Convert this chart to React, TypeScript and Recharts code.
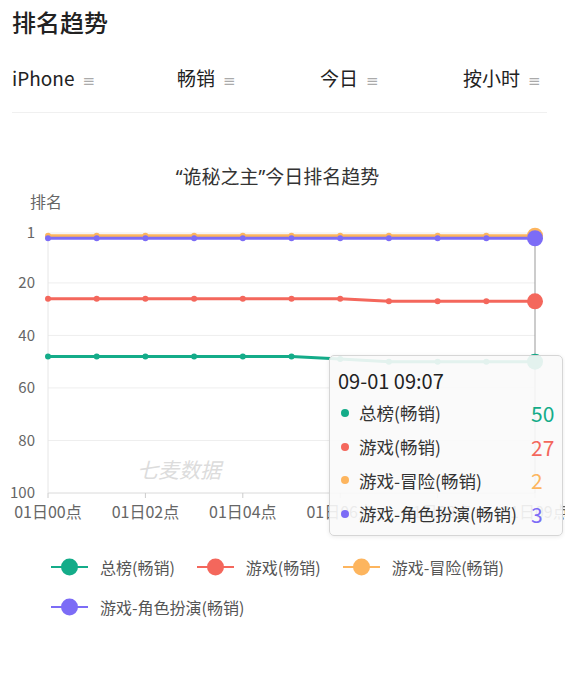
import React from 'react';
import { LineChart, Line, XAxis, YAxis, CartesianGrid, Tooltip } from 'recharts';

// hourly ranking, last point is the latest crawl (09:07)
const hourLabels = [
  '01日00点', '01日01点', '01日02点', '01日03点', '01日04点', '01日05点',
  '01日06点', '01日07点', '01日08点', '01日09点', '01日09点',
];
const tooltipTimes = [
  '09-01 00:00', '09-01 01:00', '09-01 02:00', '09-01 03:00', '09-01 04:00', '09-01 05:00',
  '09-01 06:00', '09-01 07:00', '09-01 08:00', '09-01 09:00', '09-01 09:07',
];
const overallRank = [48, 48, 48, 48, 48, 48, 49, 50, 50, 50, 50];
const gameRank = [26, 26, 26, 26, 26, 26, 26, 27, 27, 27, 27];
const adventureRank = [2, 2, 2, 2, 2, 2, 2, 2, 2, 2, 2];
const rpgRank = [3, 3, 3, 3, 3, 3, 3, 3, 3, 3, 3];
const yTicks = [1, 20, 40, 60, 80, 100];

const series = [
  { key: 'overall', name: '总榜(畅销)', color: '#14ac89', values: overallRank },
  { key: 'game', name: '游戏(畅销)', color: '#f4675c', values: gameRank },
  { key: 'adventure', name: '游戏-冒险(畅销)', color: '#fdb55e', values: adventureRank },
  { key: 'rpg', name: '游戏-角色扮演(畅销)', color: '#7c6cf6', values: rpgRank },
];

const filters = [
  { text: 'iPhone', x: 12 },
  { text: '畅销', x: 177 },
  { text: '今日', x: 320 },
  { text: '按小时', x: 463 },
];

// idx is the category key (labels repeat for the last two points)
const chartData = hourLabels.map((label, i) => {
  const row: Record<string, string | number> = { label, idx: i };
  series.forEach((s) => {
    row[s.key] = s.values[i];
  });
  return row;
});

const FONT = '"Noto Sans CJK SC", "Noto Sans", sans-serif';

function RankTooltip({ active, payload }: any) {
  if (!active || !payload || payload.length === 0) return null;
  const idx = payload[0].payload.idx as number;
  return (
    <div
      style={{
        width: 234,
        height: 181,
        background: 'rgba(250,250,250,0.9)',
        border: '1px solid #d6d6d6',
        borderRadius: 5,
        boxShadow: '0 1px 4px rgba(0,0,0,0.08)',
        fontFamily: FONT,
        boxSizing: 'border-box',
      }}
    >
      <div style={{ marginTop: 10, height: 30, lineHeight: '30px', paddingLeft: 8, fontSize: 20, color: '#222' }}>
        {tooltipTimes[idx]}
      </div>
      {series.map((s) => (
        <div key={s.key} style={{ display: 'flex', alignItems: 'center', height: 33.7 }}>
          <span
            style={{
              width: 8,
              height: 8,
              borderRadius: 4,
              background: s.color,
              marginLeft: 11,
              marginRight: 10,
              flexShrink: 0,
            }}
          />
          <span style={{ fontSize: 17.5, color: '#333', width: 172, flexShrink: 0, whiteSpace: 'nowrap' }}>{s.name}</span>
          <span style={{ fontSize: 21, color: s.color }}>{s.values[idx]}</span>
        </div>
      ))}
    </div>
  );
}

export default function App() {
  return (
    <div
      style={{
        position: 'absolute',
        left: 0,
        top: 0,
        width: 565,
        height: 680,
        background: '#fff',
        fontFamily: FONT,
        overflow: 'hidden',
      }}
    >
      <div style={{ position: 'absolute', left: 12, top: 8, fontSize: 24, lineHeight: '28px', fontWeight: 500, color: '#222' }}>
        排名趋势
      </div>

      {filters.map((f) => (
        <div
          key={f.text}
          style={{ position: 'absolute', left: f.x, top: 64, height: 28, lineHeight: '28px', fontSize: 19, color: '#222', whiteSpace: 'nowrap' }}
        >
          {f.text}
          <span style={{ fontSize: 15, color: '#aaa', marginLeft: 8, fontFamily: 'DejaVu Sans' }}>≡</span>
        </div>
      ))}
      <div style={{ position: 'absolute', left: 12, top: 112, width: 535, height: 1, background: '#f0f0f0' }} />

      <div
        style={{
          position: 'absolute',
          left: 0,
          width: 565,
          top: 165,
          textAlign: 'center',
          paddingRight: 10,
          boxSizing: 'border-box',
          fontSize: 19,
          lineHeight: '24px',
          color: '#333',
          fontFamily: '"Noto Sans", "Noto Sans CJK SC", sans-serif',
        }}
      >
        “诡秘之主”今日排名趋势
      </div>
      <div style={{ position: 'absolute', left: 30, top: 190, fontSize: 16, lineHeight: '22px', color: '#666' }}>排名</div>

      <div style={{ position: 'absolute', left: 137, top: 456, fontSize: 21, lineHeight: '26px', fontStyle: 'italic', color: '#dcdcdc' }}>
        七麦数据
      </div>

      <div style={{ position: 'absolute', left: 0, top: 150 }}>
        <LineChart width={565} height={380} data={chartData} margin={{ top: 83, right: 30, bottom: 7, left: 8 }}>
          <CartesianGrid vertical={false} stroke="#eeeeee" />
          <XAxis
            dataKey="idx"
            type="category"
            interval={1}
            height={30}
            tickSize={5}
            tickMargin={9}
            tickFormatter={(i: number) => hourLabels[i]}
            tickLine={{ stroke: '#cccccc' }}
            axisLine={{ stroke: '#e2e2e2' }}
            tick={{ fill: '#666', fontSize: 16 }}
          />
          <YAxis
            reversed
            domain={[1, 100]}
            ticks={yTicks}
            width={40}
            tickLine={false}
            tickSize={0}
            tickMargin={13}
            axisLine={{ stroke: '#e6e6e6' }}
            tick={{ fill: '#666', fontSize: 15 }}
          />
          <Tooltip
            active
            defaultIndex={10}
            position={{ x: 329, y: 205 }}
            allowEscapeViewBox={{ x: true, y: true }}
            cursor={{ stroke: '#999', strokeWidth: 1 }}
            content={<RankTooltip />}
          />
          {series.map((s) => (
            <Line
              key={s.key}
              dataKey={s.key}
              name={s.name}
              type="linear"
              stroke={s.color}
              strokeWidth={3}
              dot={{ r: 3, fill: s.color, stroke: s.color, strokeWidth: 0 }}
              activeDot={{ r: 8, fill: s.color, stroke: s.color, strokeWidth: 0 }}
              isAnimationActive={false}
            />
          ))}
        </LineChart>
      </div>

      {/* legend */}
      <div
        style={{
          position: 'absolute',
          left: 51,
          top: 554,
          width: 500,
          display: 'flex',
          flexWrap: 'wrap',
          rowGap: 14,
          columnGap: 22,
        }}
      >
        {series.map((s) => (
          <div key={s.key} style={{ display: 'flex', alignItems: 'center', height: 26 }}>
            <svg width={37} height={18} style={{ marginRight: 12 }}>
              <line x1={0} y1={9} x2={37} y2={9} stroke={s.color} strokeWidth={2} />
              <circle cx={18.5} cy={9} r={8.5} fill={s.color} />
            </svg>
            <span style={{ fontSize: 16, color: '#555', whiteSpace: 'nowrap' }}>{s.name}</span>
          </div>
        ))}
      </div>
    </div>
  );
}
